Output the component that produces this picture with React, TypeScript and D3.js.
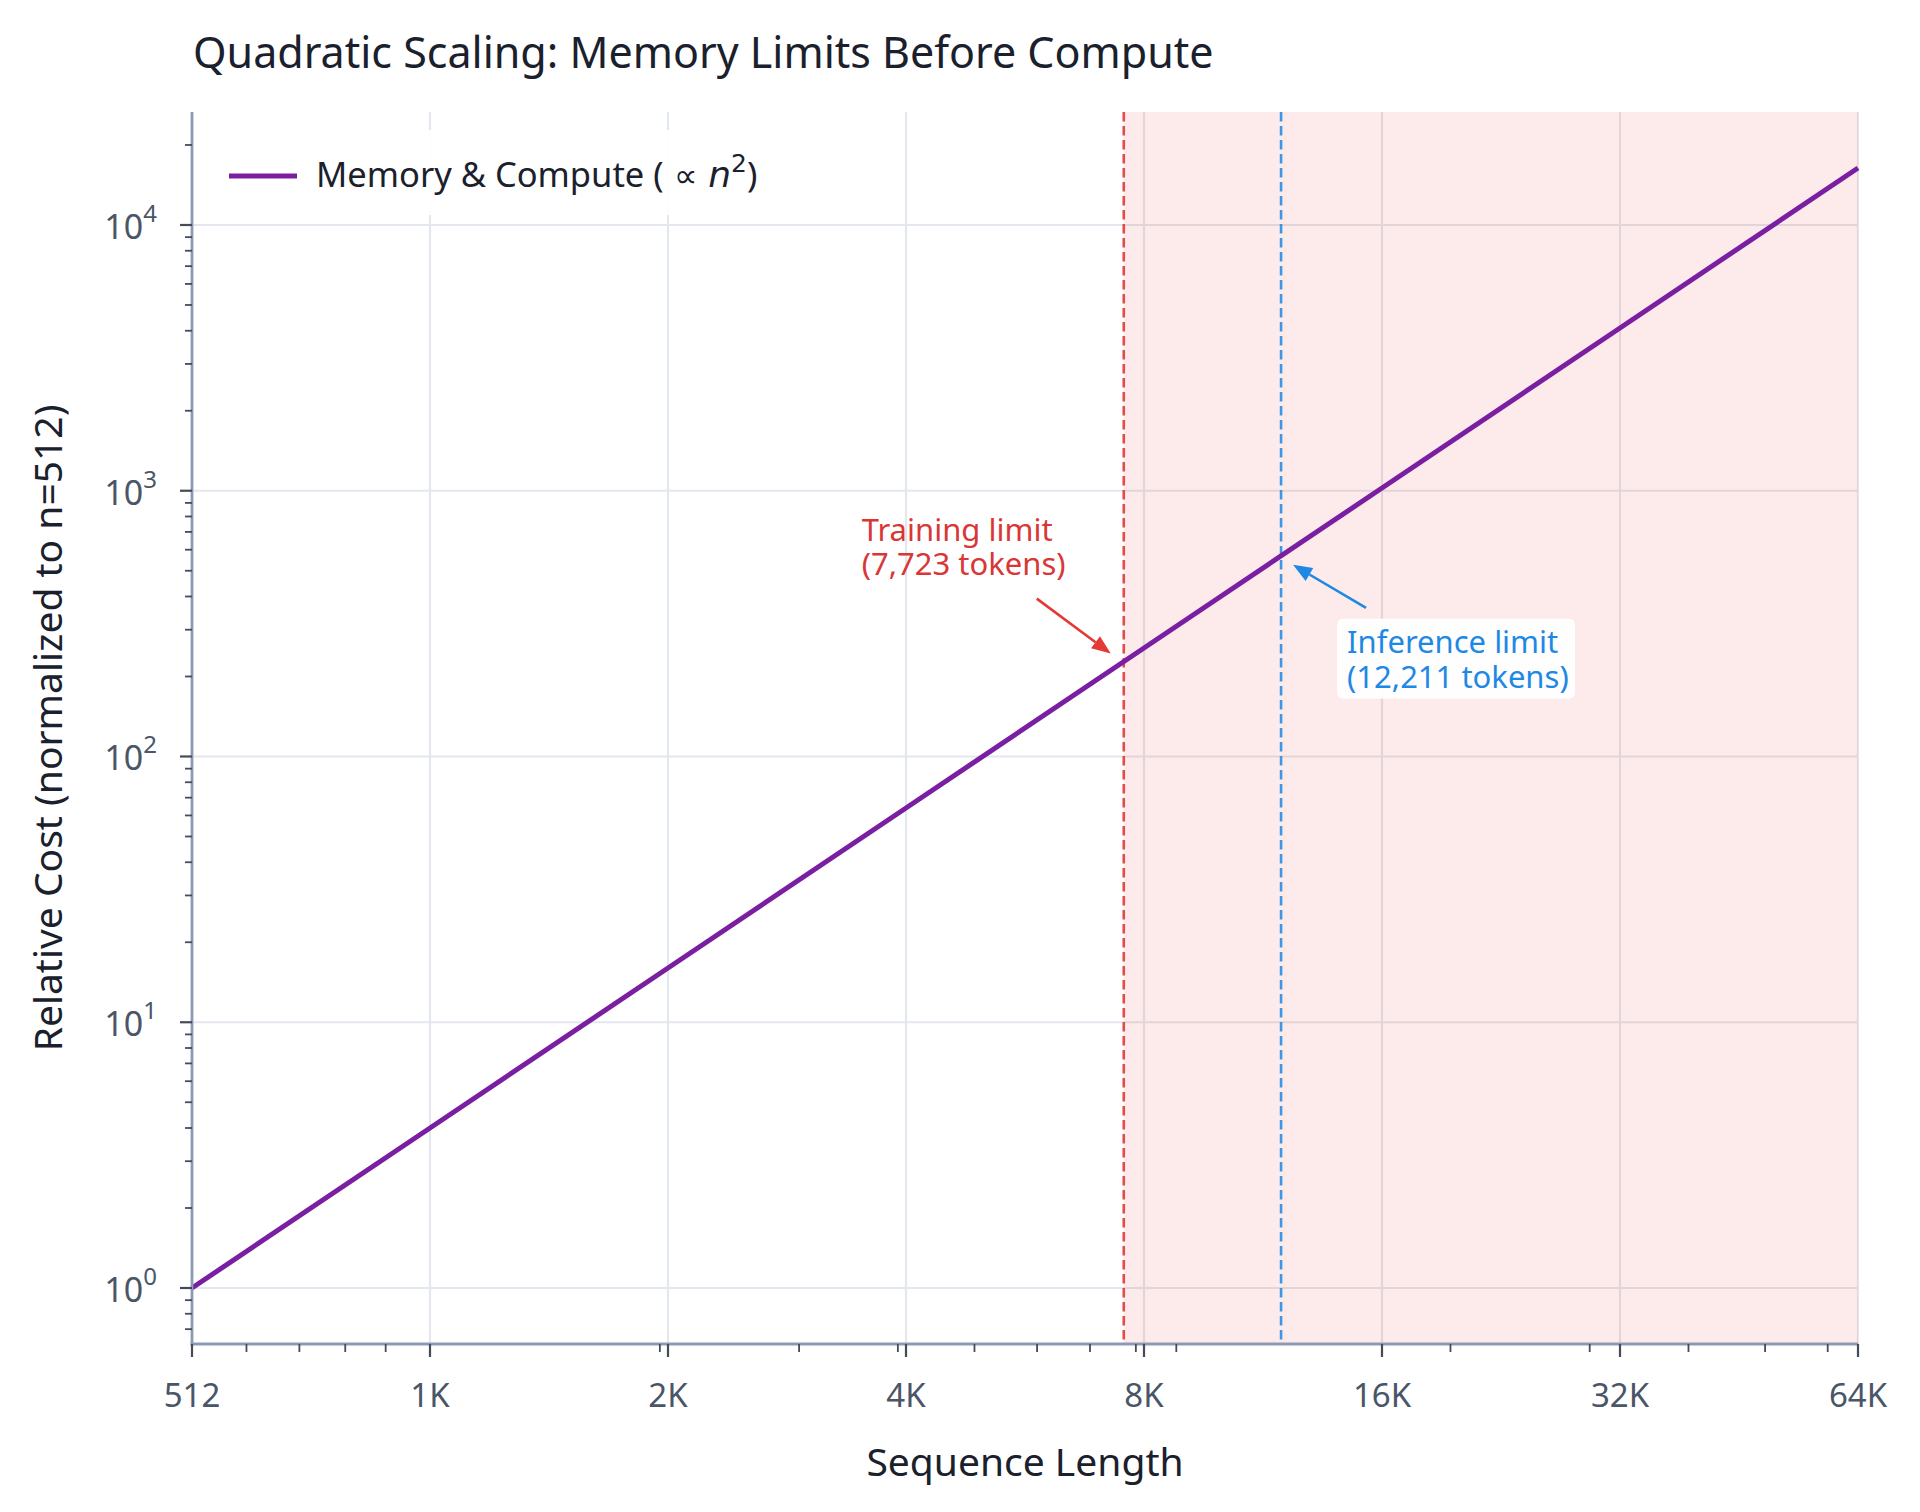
import * as d3 from "d3";

// sequence lengths (tokens) and relative cost (normalized to n=512)
const seqLengths = [512, 1024, 2048, 4096, 8192, 16384, 32768, 65536];
const relCost = [1, 4, 16, 64, 256, 1024, 4096, 16384];
const xTickLabels = ["512", "1K", "2K", "4K", "8K", "16K", "32K", "64K"];
const yTickExponents = [0, 1, 2, 3, 4];

// memory limits
const limitTokens = [7723, 12211];
const limitCost = [227.5, 568.8];
const limitLines = [
	["Training limit", "(7,723 tokens)"],
	["Inference limit", "(12,211 tokens)"],
];

const WIDTH = 1920;
const HEIGHT = 1512;
const LEFT = 192;
const RIGHT = 1858;
const TOP = 112;
const BOTTOM = 1344;

const FONT = "'Noto Sans', 'DejaVu Sans', sans-serif";
const MATH_FONT = "'DejaVu Sans', sans-serif";
const PURPLE = "#7b1fa2";
const RED = "#e53935";
const RED_TEXT = "#d93636";
const BLUE = "#1e88e5";
const GRID = "#e3e7ee";
const SPINE = "#8c9bb3";
const TICK = "#444b59";
const LABEL = "#4a5568";
const DARK = "#1a202c";

function Arrow({ x1, y1, x2, y2, color }: { x1: number; y1: number; x2: number; y2: number; color: string }) {
	const angle = Math.atan2(y2 - y1, x2 - x1);
	const headLen = 19;
	const headW = 7.5;
	const bx = x2 - headLen * Math.cos(angle);
	const by = y2 - headLen * Math.sin(angle);
	const px = -Math.sin(angle) * headW;
	const py = Math.cos(angle) * headW;
	return (
		<g>
			<line x1={x1} y1={y1} x2={bx} y2={by} stroke={color} strokeWidth={2.6} />
			<polygon points={`${x2},${y2} ${bx + px},${by + py} ${bx - px},${by - py}`} fill={color} />
		</g>
	);
}

export default function App() {
	const x = d3.scaleLog().base(2).domain([seqLengths[0], seqLengths[seqLengths.length - 1]]).range([LEFT, RIGHT]);

	// matplotlib-like 5% margins in log space
	const lo = Math.log10(d3.min(relCost)!);
	const hi = Math.log10(d3.max(relCost)!);
	const pad = (hi - lo) * 0.05;
	const y = d3.scaleLog().domain([10 ** (lo - pad), 10 ** (hi + pad)]).range([BOTTOM, TOP]);

	const notDecade = (v: number) => Math.abs(Math.log10(v) - Math.round(Math.log10(v))) > 1e-9;
	const xMinor = d3.scaleLog().domain(x.domain()).ticks().filter(notDecade);
	const yMinor = y.ticks().filter(notDecade);

	const line = d3
		.line<number>()
		.x((_, i) => x(seqLengths[i]))
		.y((d) => y(d));

	// annotation targets
	const tTrain = { x: x(limitTokens[0]), y: y(limitCost[0]) };
	const tInf = { x: x(limitTokens[1]), y: y(limitCost[1]) };

	return (
		<div style={{ position: "absolute", left: 0, top: 0 }}>
			<svg width={WIDTH} height={HEIGHT} style={{ display: "block", background: "#fff" }} fontFamily={FONT}>
				{/* grid */}
				{seqLengths.slice(1).map((v) => (
					<line key={"gx" + v} x1={x(v)} x2={x(v)} y1={TOP} y2={BOTTOM} stroke={GRID} strokeWidth={2.2} />
				))}
				{yTickExponents.map((e) => (
					<line key={"gy" + e} x1={LEFT} x2={RIGHT} y1={y(10 ** e)} y2={y(10 ** e)} stroke={GRID} strokeWidth={2.2} />
				))}

				{/* region beyond training limit */}
				<rect x={x(limitTokens[0])} y={TOP} width={RIGHT - x(limitTokens[0])} height={BOTTOM - TOP} fill={RED} opacity={0.1} />

				{/* limit lines */}
				<line x1={x(limitTokens[0])} x2={x(limitTokens[0])} y1={TOP} y2={BOTTOM} stroke={RED} strokeWidth={2.6} strokeDasharray="9.5 4.5" opacity={0.9} />
				<line x1={x(limitTokens[1])} x2={x(limitTokens[1])} y1={TOP} y2={BOTTOM} stroke={BLUE} strokeWidth={2.6} strokeDasharray="9.5 4.5" opacity={0.85} />

				{/* cost curve */}
				<path d={line(relCost)!} fill="none" stroke={PURPLE} strokeWidth={5} strokeLinecap="butt" />

				{/* training annotation */}
				<text x={tTrain.x - 262} y={tTrain.y - 121} fontSize={31} fill={RED_TEXT}>
					<tspan>{limitLines[0][0]}</tspan>
					<tspan x={tTrain.x - 262} dy={34}>
						{limitLines[0][1]}
					</tspan>
				</text>
				<Arrow x1={tTrain.x - 87} y1={tTrain.y - 63} x2={tTrain.x - 13} y2={tTrain.y - 8} color={RED} />

				{/* inference annotation */}
				<rect x={tInf.x + 56} y={tInf.y + 63} width={238} height={80} rx={6} fill="#fff" opacity={0.92} />
				<text x={tInf.x + 66} y={tInf.y + 97} fontSize={31} fill={BLUE}>
					<tspan>{limitLines[1][0]}</tspan>
					<tspan x={tInf.x + 66} dy={35}>
						{limitLines[1][1]}
					</tspan>
				</text>
				<Arrow x1={tInf.x + 85} y1={tInf.y + 52} x2={tInf.x + 12} y2={tInf.y + 9} color={BLUE} />

				{/* legend */}
				<rect x={207} y={130} width={584} height={85} rx={6} fill="#fff" opacity={0.92} />
				<line x1={229} x2={297} y1={176} y2={176} stroke={PURPLE} strokeWidth={5} />
				<text x={316} y={187} fontSize={34.5} fill={DARK}>
					Memory &amp; Compute (
					<tspan fontFamily={MATH_FONT} fontSize={33}> ∝ </tspan>
					<tspan fontFamily={MATH_FONT} fontStyle="italic" fontSize={36}>n</tspan>
					<tspan fontFamily={MATH_FONT} fontSize={25} dy={-15}>2</tspan>
					<tspan dy={15}>)</tspan>
				</text>

				{/* spines */}
				<line x1={LEFT} x2={LEFT} y1={TOP} y2={BOTTOM + 1.5} stroke={SPINE} strokeWidth={2.8} />
				<line x1={LEFT - 1.4} x2={RIGHT} y1={BOTTOM} y2={BOTTOM} stroke={SPINE} strokeWidth={2.8} />

				{/* x ticks */}
				{seqLengths.map((v, i) => (
					<g key={"xt" + v}>
						<line x1={x(v)} x2={x(v)} y1={BOTTOM} y2={BOTTOM + 13} stroke={TICK} strokeWidth={2.2} />
						<text x={x(v)} y={1407} textAnchor="middle" fontSize={33} fill={LABEL}>
							{xTickLabels[i]}
						</text>
					</g>
				))}
				{xMinor.map((v) => (
					<line key={"xm" + v} x1={x(v)} x2={x(v)} y1={BOTTOM} y2={BOTTOM + 8} stroke={TICK} strokeWidth={1.8} />
				))}

				{/* y ticks */}
				{yTickExponents.map((e) => (
					<g key={"yt" + e}>
						<line x1={LEFT - 12} x2={LEFT} y1={y(10 ** e)} y2={y(10 ** e)} stroke={TICK} strokeWidth={2.2} />
						<text x={157} y={y(10 ** e) + 14} textAnchor="end" fontSize={34} fill={LABEL}>
							10
							<tspan fontSize={24} dy={-17}>
								{e}
							</tspan>
						</text>
					</g>
				))}
				{yMinor.map((v) => (
					<line key={"ym" + v} x1={LEFT - 7} x2={LEFT} y1={y(v)} y2={y(v)} stroke={TICK} strokeWidth={1.8} />
				))}

				{/* axis labels and title */}
				<text x={(LEFT + RIGHT) / 2} y={1476} textAnchor="middle" fontSize={39} fill={DARK}>
					Sequence Length
				</text>
				<text transform={`translate(62, ${(TOP + BOTTOM) / 2}) rotate(-90)`} textAnchor="middle" fontSize={39} fill={DARK}>
					Relative Cost (normalized to n=512)
				</text>
				<text x={193} y={68} fontSize={43} fill={DARK}>
					Quadratic Scaling: Memory Limits Before Compute
				</text>
			</svg>
		</div>
	);
}
